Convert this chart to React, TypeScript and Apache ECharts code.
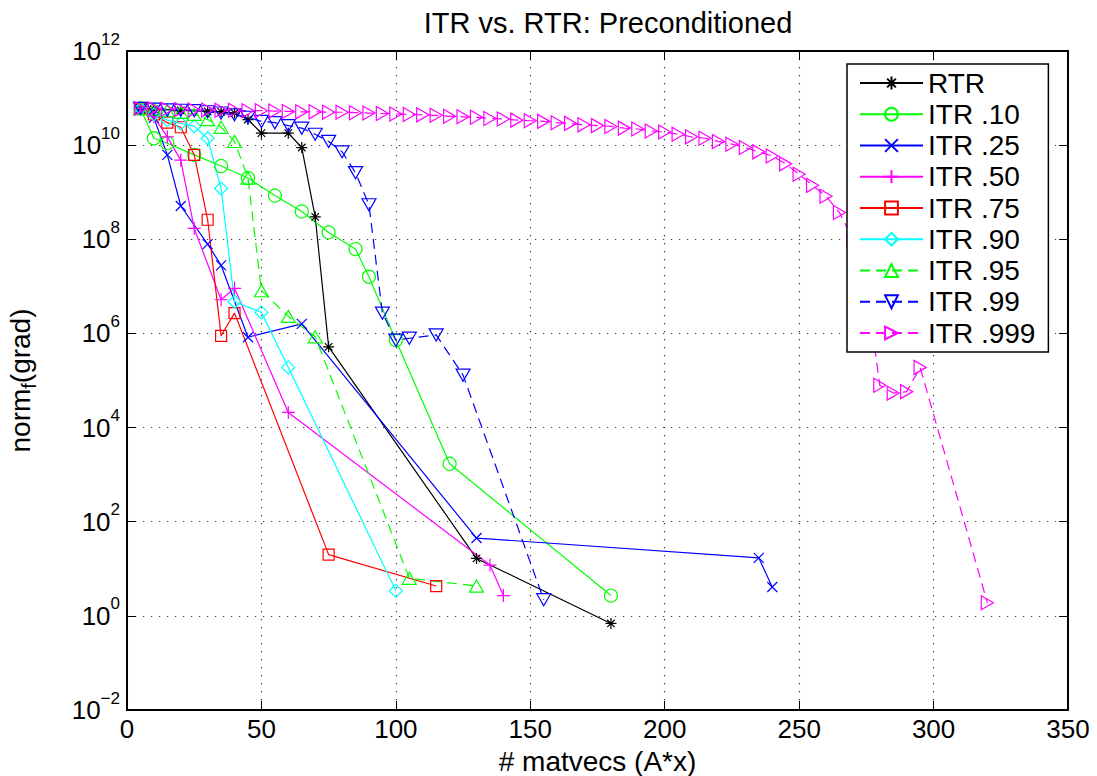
import React, { useEffect, useRef } from 'react';
import * as echarts from 'echarts';

const FONT = '"Liberation Sans", Arial, Helvetica, sans-serif';

const chartTitle = 'ITR vs. RTR: Preconditioned';
const xAxisName = '# matvecs (A*x)';
const xTicks = [0, 50, 100, 150, 200, 250, 300, 350];
const yDecadeTicks = [-2, 0, 2, 4, 6, 8, 10, 12];

const seriesNames = ['RTR', 'ITR .10', 'ITR .25', 'ITR .50', 'ITR .75', 'ITR .90', 'ITR .95', 'ITR .99', 'ITR .999'];

const rtrX = [5, 10, 20, 30, 35, 40, 45, 50, 60, 65, 70, 75, 130, 180];
const rtrY = [6.0e10, 5.8e10, 5.5e10, 5.2e10, 5.1e10, 4.8e10, 3.5e10, 1.8e10, 1.8e10, 8.9e9, 3.0e8, 5.2e5, 16.6, 0.69];

const itr10X = [5, 10, 15, 25, 35, 45, 55, 65, 75, 85, 90, 100, 120, 180];
const itr10Y = [6.0e10, 1.4e10, 1.1e10, 6.2e9, 3.6e9, 2.0e9, 8.5e8, 3.9e8, 1.4e8, 6.2e7, 1.6e7, 7.2e5, 1.7e3, 2.7];

const itr25X = [5, 10, 15, 20, 30, 35, 45, 65, 130, 235, 240];
const itr25Y = [6.0e10, 3.8e10, 6.2e9, 5.1e8, 7.9e7, 2.8e7, 8.3e5, 1.6e6, 45, 17, 4.1];

const itr50X = [5, 10, 15, 20, 25, 35, 40, 60, 135, 140];
const itr50Y = [6.0e10, 4.0e10, 1.5e10, 4.8e9, 1.7e8, 5.2e6, 9.1e6, 2.1e4, 12, 2.7];

const itr75X = [5, 10, 15, 20, 25, 30, 35, 40, 75, 115];
const itr75Y = [6.0e10, 4.5e10, 3.0e10, 2.4e10, 6.2e9, 2.6e8, 8.9e5, 2.7e6, 20, 4.3];

const itr90X = [5, 10, 15, 20, 25, 30, 35, 40, 50, 60, 100];
const itr90Y = [6.0e10, 4.5e10, 3.4e10, 2.9e10, 2.5e10, 1.4e10, 1.2e9, 4.7e6, 2.8e6, 1.9e5, 3.4];

const itr95X = [5, 10, 15, 20, 25, 30, 35, 40, 45, 50, 60, 70, 105, 130];
const itr95Y = [6.0e10, 5.8e10, 5.4e10, 5.0e10, 4.5e10, 3.5e10, 2.4e10, 1.2e10, 2.0e9, 8.1e6, 2.3e6, 8.5e5, 6.3, 4.3];

const itr99X = [5, 10, 15, 20, 25, 30, 35, 40, 45, 50, 55, 60, 65, 70, 75, 80, 85, 90, 95, 100, 105, 115, 125, 155];
const itr99Y = [6.0e10, 5.8e10, 5.6e10, 5.5e10, 5.4e10, 5.1e10, 4.8e10, 4.4e10, 3.9e10, 3.2e10, 3.0e10, 2.6e10, 2.3e10, 1.7e10, 1.2e10, 7.2e9, 2.6e9, 5.4e8, 2.7e6, 7.2e5, 7.9e5, 9.3e5, 1.3e5, 2.2];

const itr999X = [
  5, 10, 15, 20, 25, 30, 35, 40, 45, 50, 55, 60, 65, 70, 75, 80, 85, 90, 95, 100,
  105, 110, 115, 120, 125, 130, 135, 140, 145, 150, 155, 160, 165, 170, 175, 180, 185, 190, 195, 200,
  205, 210, 215, 220, 225, 230, 235, 240, 245, 250, 255, 260, 265, 270, 275, 280, 285, 290, 295, 320,
];
const itr999Y = [
  6.0e10, 5.9e10, 5.8e10, 5.7e10, 5.6e10, 5.6e10, 5.5e10, 5.5e10, 5.4e10, 5.4e10,
  5.3e10, 5.2e10, 5.1e10, 5.1e10, 5.0e10, 5.0e10, 4.9e10, 4.8e10, 4.7e10, 4.6e10,
  4.5e10, 4.4e10, 4.3e10, 4.1e10, 4.0e10, 3.9e10, 3.7e10, 3.6e10, 3.4e10, 3.3e10,
  3.2e10, 3.0e10, 2.9e10, 2.7e10, 2.6e10, 2.5e10, 2.3e10, 2.2e10, 2.0e10, 1.9e10,
  1.7e10, 1.5e10, 1.4e10, 1.2e10, 1.05e10, 8.9e9, 7.2e9, 5.9e9, 4.0e9, 2.4e9,
  1.4e9, 8.2e8, 3.7e8, 1.0e8, 1.0e7, 7.9e4, 5.4e4, 5.8e4, 1.9e5, 1.9,
];

const colors = ['#000000', '#00ff00', '#0000ff', '#ff00ff', '#ff0000', '#00ffff', '#00ff00', '#0000ff', '#ff00ff'];

const SYM_STAR = 'path://M5,0L5,10M0,5L10,5M1.6,1.6L8.4,8.4M1.6,8.4L8.4,1.6';
const SYM_PLUS = 'path://M5,0L5,10M0,5L10,5';
const SYM_X = 'path://M0,0L10,10M0,10L10,0';
const SYM_UP = 'path://M5,0L10,8.66L0,8.66Z';
const SYM_DOWN = 'path://M0,0L10,0L5,8.66Z';
const SYM_RIGHT = 'path://M0,0L8.66,5L0,10Z';

const symbols = [SYM_STAR, 'circle', SYM_X, SYM_PLUS, 'rect', 'diamond', SYM_UP, SYM_DOWN, SYM_RIGHT];
const symbolSizes = [11, 13, 10, 13, 11, 13, 14, 14, 14];
const dashed = [false, false, false, false, false, false, true, true, true];

const allX = [rtrX, itr10X, itr25X, itr50X, itr75X, itr90X, itr95X, itr99X, itr999X];
const allY = [rtrY, itr10Y, itr25Y, itr50Y, itr75Y, itr90Y, itr95Y, itr99Y, itr999Y];

export default function App() {
  const ref = useRef<HTMLDivElement>(null);

  useEffect(() => {
    if (!ref.current) return;
    const chart = echarts.init(ref.current, undefined, { renderer: 'svg' });

    const series = seriesNames.map((name, i) => ({
      name,
      type: 'line',
      xAxisIndex: 0,
      yAxisIndex: 0,
      data: allX[i].map((x, j) => [x, Math.log10(allY[i][j])]),
      symbol: symbols[i],
      symbolSize: symbolSizes[i],
      symbolKeepAspect: true,
      showAllSymbol: true,
      color: colors[i],
      lineStyle: { color: colors[i], width: 1.2, type: dashed[i] ? [10, 6] : 'solid' },
      itemStyle: { color: 'rgba(0,0,0,0)', borderColor: colors[i], borderWidth: 1.2 },
      emphasis: { disabled: true },
      z: 2,
      zlevel: 0,
    }));

    const gridLine = { show: true, lineStyle: { color: '#333', width: 1.2, type: [1.2, 6.8] } };
    const axisLine = { show: true, onZero: false, lineStyle: { color: '#000', width: 2 } };
    const axisTick = { show: true, inside: true, length: 9, lineStyle: { color: '#000', width: 1 } };

    chart.setOption({
      animation: false,
      backgroundColor: '#fff',
      title: {
        text: chartTitle,
        left: 603,
        textAlign: 'center',
        top: 3,
        textStyle: { fontFamily: FONT, fontSize: 29, fontWeight: 'normal', color: '#000' },
      },
      grid: { left: 127, top: 51, right: 29, bottom: 66, containLabel: false, outerBoundsMode: 'none' },
      legend: {
        data: seriesNames,
        orient: 'vertical',
        left: 847,
        top: 64,
        z: 20,
        padding: [5, 13, 5, 12],
        itemWidth: 63,
        itemHeight: 16,
        itemGap: 3.25,
        selectedMode: false,
        backgroundColor: '#fff',
        borderColor: '#000',
        borderWidth: 1.5,
        textStyle: { fontFamily: FONT, fontSize: 28, lineHeight: 27, color: '#000' },
      },
      xAxis: [
        {
          type: 'value',
          min: 0,
          max: 350,
          interval: 50,
          position: 'bottom',
          name: xAxisName,
          nameLocation: 'middle',
          nameGap: 38,
          nameMoveOverlap: false,
          nameTextStyle: { fontFamily: FONT, fontSize: 28, lineHeight: 26, color: '#000' },
          axisLine,
          axisTick,
          splitLine: gridLine,
          axisLabel: { fontFamily: FONT, fontSize: 26, lineHeight: 22, color: '#000', margin: 8 },
        },
        {
          type: 'value',
          min: 0,
          max: 350,
          interval: 50,
          position: 'top',
          axisLine,
          axisTick,
          splitLine: { show: false },
          axisLabel: { show: false },
        },
      ],
      yAxis: [
        {
          type: 'value',
          min: -2,
          max: 12,
          interval: 2,
          position: 'left',
          name: '{a|norm}{f|f}{a|(grad)}',
          nameLocation: 'middle',
          nameGap: 88,
          nameMoveOverlap: false,
          nameRotate: 90,
          nameTextStyle: {
            fontFamily: FONT,
            color: '#000',
            rich: {
              a: { fontFamily: FONT, fontSize: 28, color: '#000' },
              f: { fontFamily: FONT, fontSize: 20, color: '#000', padding: [18, 0, 0, 0] },
            },
          },
          axisLine,
          axisTick,
          splitLine: gridLine,
          axisLabel: {
            margin: 7,
            formatter: (v: number) => `{b|10}{s|${v < 0 ? '\u2212' + Math.abs(v) : v}}`,
            rich: {
              b: { fontFamily: FONT, fontSize: 26, color: '#000' },
              s: { fontFamily: FONT, fontSize: 17, color: '#000', padding: [0, 0, 24, 0] },
            },
          },
        },
        {
          type: 'value',
          min: -2,
          max: 12,
          interval: 2,
          position: 'right',
          axisLine,
          axisTick,
          splitLine: { show: false },
          axisLabel: { show: false },
        },
      ],
      series,
    });

    return () => chart.dispose();
  }, []);

  return (
    <div
      ref={ref}
      style={{ position: 'fixed', left: 0, top: 0, width: 1097, height: 776, background: '#fff' }}
    />
  );
}
